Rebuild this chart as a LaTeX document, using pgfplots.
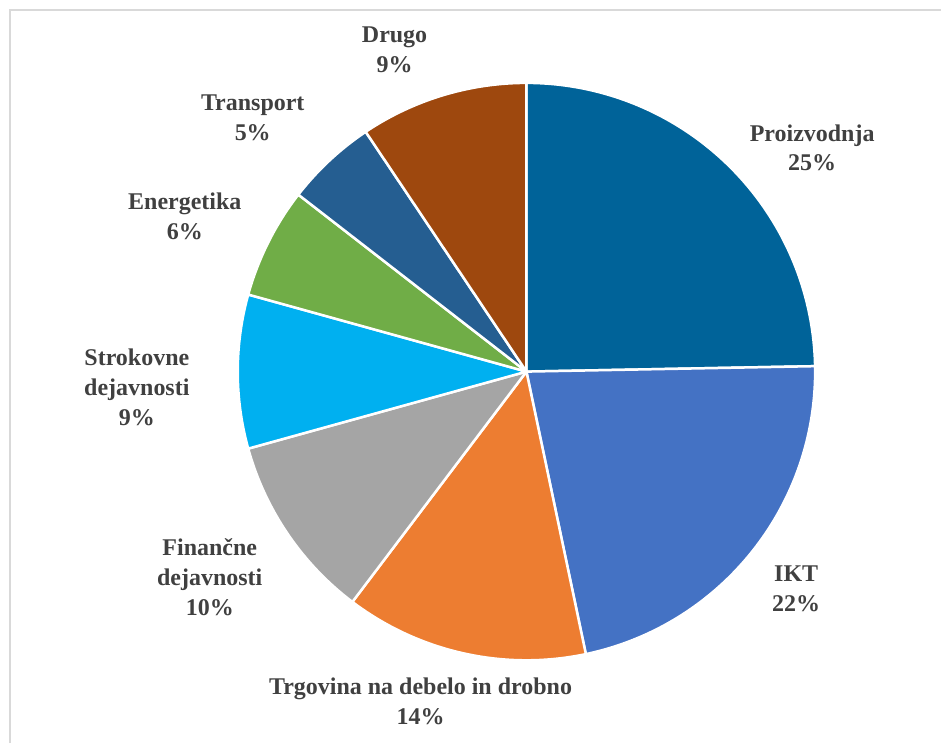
\documentclass[border=0pt]{standalone}
\usepackage{pgfplots}
\pgfplotsset{compat=1.18}
\usepackage{fontspec}
\setmainfont{Liberation Serif}
\definecolor{cProiz}{RGB}{0,99,153}
\definecolor{cIKT}{HTML}{4472C4}
\definecolor{cTrg}{HTML}{ED7D31}
\definecolor{cFin}{HTML}{A5A5A5}
\definecolor{cStr}{HTML}{00B0F0}
\definecolor{cEne}{HTML}{70AD47}
\definecolor{cTra}{HTML}{255E91}
\definecolor{cDru}{HTML}{9E480E}
\definecolor{txt}{HTML}{404040}
\begin{document}
\begin{tikzpicture}
\def\cx{527}\def\cy{372}\def\R{289}
% shares (percent), clockwise from 12 o'clock
\def\vA{24.7}% Proizvodnja
\def\vB{22.0}% IKT
\def\vC{13.6}% Trgovina
\def\vD{10.4}% Financne
\def\vE{8.6}% Strokovne
\def\vF{6.2}% Energetika
\def\vG{5.1}% Transport
\def\vH{9.4}% Drugo
\pgfmathsetmacro\aA{90}
\pgfmathsetmacro\aB{\aA-3.6*\vA}
\pgfmathsetmacro\aC{\aB-3.6*\vB}
\pgfmathsetmacro\aD{\aC-3.6*\vC}
\pgfmathsetmacro\aE{\aD-3.6*\vD}
\pgfmathsetmacro\aF{\aE-3.6*\vE}
\pgfmathsetmacro\aG{\aF-3.6*\vF}
\pgfmathsetmacro\aH{\aG-3.6*\vG}
\pgfmathsetmacro\aI{\aH-3.6*\vH}
\begin{axis}[scale only axis, width=942pt, height=744pt,
  xmin=0, xmax=942, ymin=0, ymax=744, enlargelimits=false,
  hide axis, clip=false]
\fill[white] (axis cs:0,0) rectangle (axis cs:942,744);
\draw[color=black!15, line width=2pt] (axis cs:10,0) -- (axis cs:10,734) -- (axis cs:942,734);
\pgfplotsset{slice/.style={draw=white, line width=2.5pt, line join=round, samples=90, variable=\t}}
\addplot[slice, fill=cProiz, domain=\aB:\aA] ({\cx+\R*cos(\t)},{\cy+\R*sin(\t)}) -- (axis cs:\cx,\cy) -- cycle;
\addplot[slice, fill=cIKT, domain=\aC:\aB] ({\cx+\R*cos(\t)},{\cy+\R*sin(\t)}) -- (axis cs:\cx,\cy) -- cycle;
\addplot[slice, fill=cTrg, domain=\aD:\aC] ({\cx+\R*cos(\t)},{\cy+\R*sin(\t)}) -- (axis cs:\cx,\cy) -- cycle;
\addplot[slice, fill=cFin, domain=\aE:\aD] ({\cx+\R*cos(\t)},{\cy+\R*sin(\t)}) -- (axis cs:\cx,\cy) -- cycle;
\addplot[slice, fill=cStr, domain=\aF:\aE] ({\cx+\R*cos(\t)},{\cy+\R*sin(\t)}) -- (axis cs:\cx,\cy) -- cycle;
\addplot[slice, fill=cEne, domain=\aG:\aF] ({\cx+\R*cos(\t)},{\cy+\R*sin(\t)}) -- (axis cs:\cx,\cy) -- cycle;
\addplot[slice, fill=cTra, domain=\aH:\aG] ({\cx+\R*cos(\t)},{\cy+\R*sin(\t)}) -- (axis cs:\cx,\cy) -- cycle;
\addplot[slice, fill=cDru, domain=\aI:\aH] ({\cx+\R*cos(\t)},{\cy+\R*sin(\t)}) -- (axis cs:\cx,\cy) -- cycle;
\tikzset{lab/.style={align=center, text=txt, font=\fontsize{24}{30}\selectfont\bfseries, inner sep=0pt}}
\node[lab] at (axis cs:813,596) {Proizvodnja\\25\%};
\node[lab] at (axis cs:797,155) {IKT\\22\%};
\node[lab] at (axis cs:421,42) {Trgovina na debelo in drobno\\14\%};
\node[lab] at (axis cs:210,166) {Finančne\\dejavnosti\\10\%};
\node[lab] at (axis cs:137,356) {Strokovne\\dejavnosti\\9\%};
\node[lab] at (axis cs:185,527) {Energetika\\6\%};
\node[lab] at (axis cs:253,626) {Transport\\5\%};
\node[lab] at (axis cs:395,694) {Drugo\\9\%};
\end{axis}
\end{tikzpicture}
\end{document}
